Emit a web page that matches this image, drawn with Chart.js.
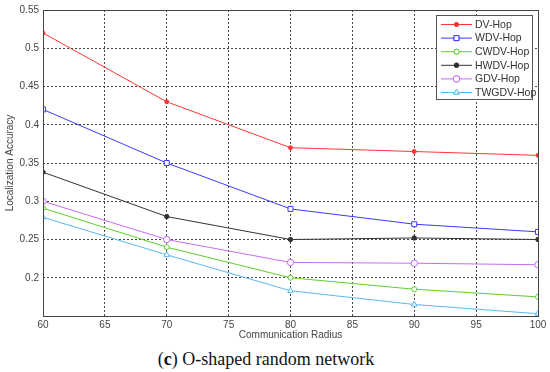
<!DOCTYPE html>
<html>
<head>
<meta charset="utf-8">
<script src="https://cdn.jsdelivr.net/npm/chart.js@4"></script>
<style>
  body { margin: 0; background: #fff; }
  #wrap { position: relative; width: 550px; height: 345px; }
  #caption {
    width: 550px; text-align: center; margin-left: -9px;
    font-family: "Liberation Serif", "DejaVu Serif", serif;
    font-size: 18px; color: #111; line-height: 20px; margin-top: 4px;
  }
</style>
</head>
<body>
<div id="wrap"><canvas id="accChart" width="550" height="345"></canvas></div>
<div id="caption">(<b>c</b>) O-shaped random network</div>
<script>
// communication radius
const radius = [60, 70, 80, 90, 100];

// localization accuracy per algorithm
const dvHop = [0.52, 0.43, 0.37, 0.365, 0.36];
const wdvHop = [0.42, 0.35, 0.29, 0.27, 0.26];
const cwdvHop = [0.291, 0.24, 0.20, 0.185, 0.175];
const hwdvHop = [0.338, 0.28, 0.25, 0.252, 0.25];
const gdvHop = [0.30, 0.25, 0.22, 0.219, 0.217];
const twgdvHop = [0.279, 0.23, 0.183, 0.165, 0.153];

const xTicks = [60, 65, 70, 75, 80, 85, 90, 95, 100];
const yTicks = [0.2, 0.25, 0.3, 0.35, 0.4, 0.45, 0.5, 0.55];

function series(label, values, color, style, r, filled) {
  return {
    label: label,
    data: values.map((v, i) => ({ x: radius[i], y: v })),
    borderColor: color,
    backgroundColor: filled ? color : "#fff",
    pointStyle: style,
    pointRadius: r,
    pointBorderWidth: 1,
    borderWidth: 1,
  };
}

// draw the box round the plot and a MATLAB-like legend inside it
const frame = {
  id: "frame",
  afterDraw(chart) {
    const { ctx, chartArea: a } = chart;
    ctx.save();
    ctx.strokeStyle = "#444";
    ctx.lineWidth = 1;
    ctx.strokeRect(a.left + 0.5, a.top + 0.5, a.right - a.left, a.bottom - a.top);

    const lx = 436.5, ly = 15.5, lw = 96, lh = 84;
    ctx.fillStyle = "#fff";
    ctx.fillRect(lx, ly, lw, lh);
    ctx.strokeStyle = "#555";
    ctx.strokeRect(lx, ly, lw, lh);
    ctx.font = "10.5px 'Liberation Sans', Arial, sans-serif";
    ctx.textBaseline = "middle";
    chart.data.datasets.forEach((ds, i) => {
      const y = 24.5 + i * 13.6;
      ctx.strokeStyle = ds.borderColor;
      ctx.beginPath();
      ctx.moveTo(441, y);
      ctx.lineTo(472, y);
      ctx.stroke();
      Chart.helpers.drawPoint(ctx, {
        pointStyle: ds.pointStyle, radius: ds.pointRadius, borderWidth: 1, rotation: 0,
      }, 456.5, y);
      ctx.fillStyle = ds.backgroundColor;
      ctx.fill();
      ctx.stroke();
      ctx.fillStyle = "#333";
      ctx.fillText(ds.label, 475, y + 0.5);
    });
    ctx.restore();
  },
};

const tickFont = { size: 10, family: "'Liberation Sans', Arial" };

new Chart(document.getElementById("accChart"), {
  type: "line",
  data: {
    datasets: [
      series("DV-Hop", dvHop, "#ff3535", "circle", 2, true),
      series("WDV-Hop", wdvHop, "#3a3aff", "rect", 3.5, false),
      series("CWDV-Hop", cwdvHop, "#5fcf2a", "circle", 2.5, false),
      series("HWDV-Hop", hwdvHop, "#333333", "circle", 2.2, true),
      series("GDV-Hop", gdvHop, "#c46cf5", "circle", 3.2, false),
      series("TWGDV-Hop", twgdvHop, "#5ab8ee", "triangle", 3.2, false),
    ],
  },
  options: {
    responsive: false,
    animation: false,
    layout: { padding: { top: 10, right: 12, left: 0, bottom: 0 } },
    plugins: { legend: { display: false }, tooltip: { enabled: false } },
    elements: { line: { tension: 0 } },
    scales: {
      x: {
        type: "linear",
        min: 60,
        max: 100,
        afterBuildTicks: (s) => { s.ticks = xTicks.map((v) => ({ value: v })); },
        afterFit: (s) => { s.height = 29; },
        grid: { color: "#444", tickLength: 0, drawTicks: false },
        border: { display: false, dash: [2, 2] },
        ticks: { color: "#444", font: tickFont, padding: 3 },
        title: {
          display: true, text: "Communication Radius", color: "#444",
          font: tickFont, padding: { top: 0 },
        },
      },
      y: {
        min: 0.15,
        max: 0.55,
        afterBuildTicks: (s) => { s.ticks = yTicks.map((v) => ({ value: v })); },
        afterFit: (s) => { s.width = 43; },
        grid: { color: "#444", tickLength: 0, drawTicks: false },
        border: { display: false, dash: [2, 2] },
        ticks: {
          color: "#444", font: tickFont, padding: 4,
          callback: (v) => String(Math.round(v * 100) / 100),
        },
        title: {
          display: true, text: "Localization Accuracy", color: "#444",
          font: tickFont, padding: { bottom: 6 },
        },
      },
    },
  },
  plugins: [frame],
});
</script>
</body>
</html>
